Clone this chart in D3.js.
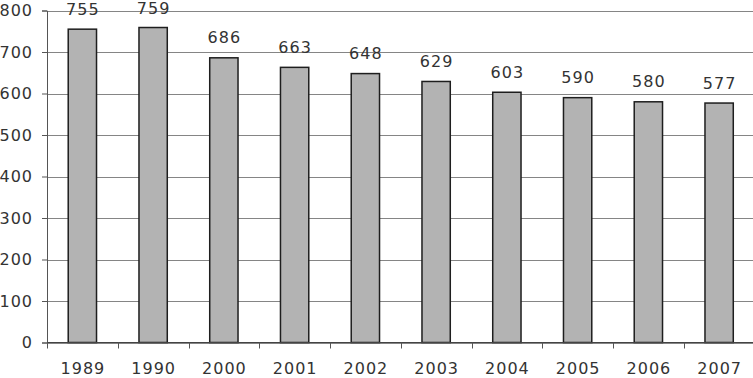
<!DOCTYPE html>
<html><head><meta charset="utf-8">
<script src="https://cdn.jsdelivr.net/npm/d3@7"></script>
<style>body{margin:0;background:#fff}svg{display:block}</style>
</head><body>
<script>
const categories = ["1989","1990","2000","2001","2002","2003","2004","2005","2006","2007"];
const values = [755,759,686,663,648,629,603,590,580,577];
const yTicks = [0,100,200,300,400,500,600,700,800];

(function () {
const W = 753, H = 378;
const mLeft = 47, mRight = 754.5, mTop = 10.5, mBottom = 342.5;
const svg = d3.select("body").append("svg").attr("width", W).attr("height", H);
const font = "DejaVu Sans, Verdana, sans-serif";

const x = d3.scaleBand().domain(categories).range([mLeft, mRight]).paddingInner(0.6).paddingOuter(0.3);
const xb = d3.scaleBand().domain(categories).range([mLeft, mRight]);
const y = d3.scaleLinear().domain([0, 800]).range([mBottom, mTop]);

// gridlines
svg.append("g").selectAll("line").data(yTicks).join("line")
  .attr("x1", mLeft).attr("x2", mRight)
  .attr("y1", d => Math.round(y(d)) + 0.5).attr("y2", d => Math.round(y(d)) + 0.5)
  .attr("stroke", "#858585").attr("stroke-width", 1);

// y axis
const yAxis = d3.axisLeft(y).tickValues(yTicks).tickSize(5).tickPadding(9);
const gy = svg.append("g").attr("transform", `translate(${mLeft},0)`).call(yAxis);
gy.select(".domain").attr("stroke", "#555");
gy.selectAll(".tick line").attr("stroke", "#555");
gy.selectAll("text").attr("font-family", font).attr("font-size", 16)
  .attr("letter-spacing", 1).attr("fill", "#333");

// bars
svg.append("g").selectAll("rect").data(values).join("rect")
  .attr("x", (d, i) => x(categories[i]))
  .attr("width", x.bandwidth())
  .attr("y", d => y(d))
  .attr("height", d => y(0) - y(d))
  .attr("fill", "#b3b3b3").attr("stroke", "#1e1e1e").attr("stroke-width", 1.5);

// x axis line
svg.append("line").attr("x1", mLeft).attr("x2", mRight)
  .attr("y1", mBottom).attr("y2", mBottom).attr("stroke", "#444").attr("stroke-width", 1);

// x boundary ticks
svg.append("g").selectAll("line").data(categories).join("line")
  .attr("x1", d => Math.round(xb(d)) + 0.5).attr("x2", d => Math.round(xb(d)) + 0.5)
  .attr("y1", mBottom).attr("y2", mBottom + 6).attr("stroke", "#555");

// x labels
svg.append("g").selectAll("text").data(categories).join("text")
  .attr("x", d => xb(d) + xb.bandwidth() / 2 + 0.5)
  .attr("y", 374)
  .attr("text-anchor", "middle")
  .attr("font-family", font).attr("font-size", 16).attr("letter-spacing", 1)
  .attr("fill", "#333").text(d => d);

// value labels
svg.append("g").selectAll("text").data(values).join("text")
  .attr("x", (d, i) => xb(categories[i]) + xb.bandwidth() / 2 + 0.5)
  .attr("y", d => Math.max(y(d) - 14.5, 13.5))
  .attr("text-anchor", "middle")
  .attr("font-family", font).attr("font-size", 16).attr("letter-spacing", 1)
  .attr("fill", "#333").text(d => d);
})();
</script>
</body></html>
